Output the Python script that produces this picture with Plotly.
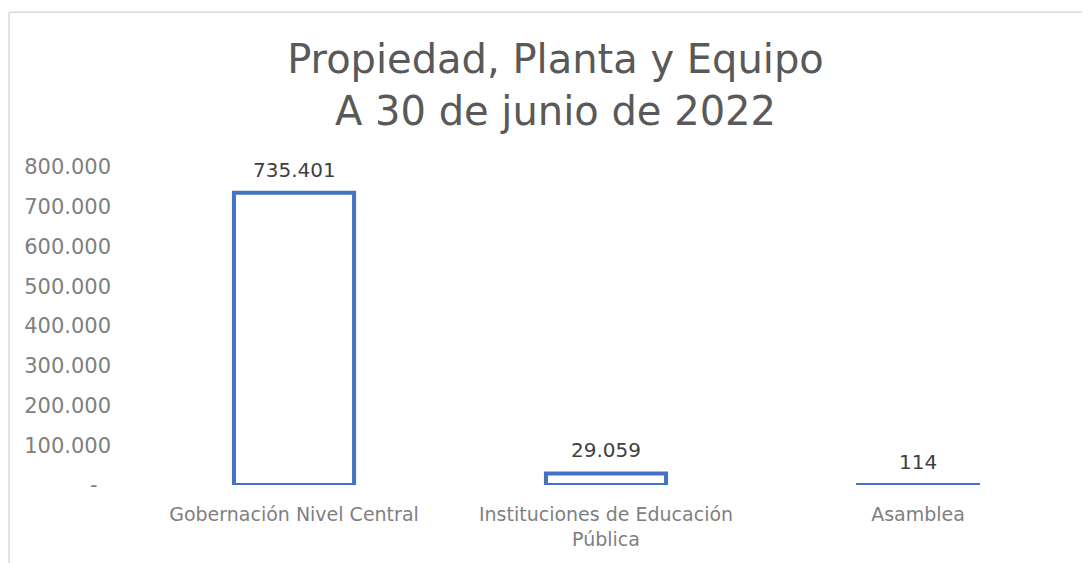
import plotly.graph_objects as go

categories = ["Gobernación Nivel Central", "Instituciones de Educación<br>Pública", "Asamblea"]
values = [735401, 29059, 114]
value_labels = ["735.401", "29.059", "114"]
tick_vals = [0, 100000, 200000, 300000, 400000, 500000, 600000, 700000, 800000]
tick_text = ["-\u00a0\u00a0", "100.000", "200.000", "300.000", "400.000",
             "500.000", "600.000", "700.000", "800.000"]

# the page body has an 8px margin, so the figure is a bit smaller than the window
fig = go.Figure()
fig.add_trace(go.Bar(
    x=categories,
    y=values,
    cliponaxis=False,
    marker=dict(color="white", line=dict(color="#4472C4", width=4)),
    hoverinfo="x+y",
))

# data labels a little higher than plotly's own outside text
for cat, val, lab in zip(categories, values, value_labels):
    fig.add_annotation(x=cat, y=val, text=lab, showarrow=False,
                       yanchor="bottom", yshift=9,
                       font=dict(family="DejaVu Sans", size=20, color="#404040"))

fig.update_layout(
    title=dict(
        text="Propiedad, Planta y Equipo<br>A 30 de junio de 2022",
        font=dict(family="DejaVu Sans", size=40, color="#595959"),
        x=0.506, xanchor="center",
        y=0.883, yanchor="middle",
    ),
    font=dict(family="DejaVu Sans", size=19, color="#7f7f7f"),
    width=1082, height=555,
    margin=dict(l=130, r=16, t=159, b=78),
    paper_bgcolor="white",
    plot_bgcolor="white",
    showlegend=False,
    bargap=0.615,
    xaxis=dict(showgrid=False, showline=False, ticks="",
               ticklabelstandoff=16,
               tickfont=dict(size=19, color="#7f7f7f")),
    yaxis=dict(range=[0, 800000], tickvals=tick_vals, ticktext=tick_text,
               showgrid=False, zeroline=False, showline=False,
               ticks="", ticklabelstandoff=26,
               tickfont=dict(size=21, color="#7f7f7f")),
    shapes=[
        dict(type="line", xref="paper", yref="paper",
             x0=-0.1378, x1=1.2, y0=1.487, y1=1.487,
             line=dict(color="#d9d9d9", width=1.5)),
        dict(type="line", xref="paper", yref="paper",
             x0=-0.1378, x1=-0.1378, y0=1.487, y1=-0.5,
             line=dict(color="#d9d9d9", width=1.5)),
    ],
)

fig.write_html("out.html")
